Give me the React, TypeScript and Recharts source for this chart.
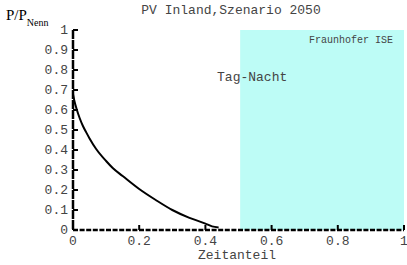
import React from 'react';
import { LineChart, Line, XAxis, YAxis, ReferenceArea, Label } from 'recharts';

const share = [0, 0.005, 0.01, 0.02, 0.03, 0.04, 0.05, 0.07, 0.1, 0.12, 0.15, 0.2, 0.25, 0.3, 0.35, 0.4, 0.42, 0.44];
const power = [0.68, 0.64, 0.61, 0.56, 0.52, 0.488, 0.458, 0.405, 0.345, 0.31, 0.27, 0.205, 0.15, 0.1, 0.062, 0.032, 0.018, 0.013];
const xTicks = [0, 0.2, 0.4, 0.6, 0.8, 1];
const yTicks = [0, 0.1, 0.2, 0.3, 0.4, 0.5, 0.6, 0.7, 0.8, 0.9, 1];
const nightStart = 0.505;

const title = 'PV Inland,Szenario 2050';
const xName = 'Zeitanteil';
const regionName = 'Tag-Nacht';
const credit = 'Fraunhofer ISE';

const mono = "'Courier New', 'Liberation Mono', monospace";
const textColor = '#444';

const data = share.map((x, i) => ({ x, p: power[i] }));

const LeftTick = (props: any) => {
  const { x, y, payload } = props;
  return (
    <g>
      <line x1={x + 5} x2={x + 10} y1={y} y2={y} stroke="#000" strokeWidth={2} />
      <text x={x} y={y + 4} textAnchor="end" fontFamily={mono} fontSize={13} fill={textColor}>
        {String(payload.value)}
      </text>
    </g>
  );
};

const BottomTick = (props: any) => {
  const { x, y, payload } = props;
  return (
    <g>
      <line x1={x} x2={x} y1={y - 3} y2={y - 8} stroke="#000" strokeWidth={2} />
      <text x={x} y={y + 12} textAnchor="middle" fontFamily={mono} fontSize={13} fill={textColor}>
        {String(payload.value)}
      </text>
    </g>
  );
};

const TopTick = (props: any) => {
  const { x, y } = props;
  return <line x1={x} x2={x} y1={y} y2={y + 5} stroke="#000" strokeWidth={2} />;
};

const RightTick = (props: any) => {
  const { x, y } = props;
  return <line x1={x} x2={x - 5} y1={y} y2={y} stroke="#000" strokeWidth={2} />;
};

export default function App() {
  return (
    <div style={{ position: 'absolute', left: 0, top: 0, width: 407, height: 265, background: '#fff' }}>
      <LineChart width={407} height={265} data={data} margin={{ top: 30, right: 3, bottom: 0, left: 0 }}>
        <XAxis
          dataKey="x"
          type="number"
          domain={[0, 1]}
          ticks={xTicks}
          interval={0}
          tickSize={0}
          tickMargin={3}
          tickLine={false}
          tick={<BottomTick />}
          height={35}
          axisLine={{ stroke: '#000', strokeWidth: 2.5, strokeDasharray: '5 1.6' }}
        />
        <XAxis
          xAxisId="top"
          orientation="top"
          dataKey="x"
          type="number"
          domain={[0, 1]}
          ticks={xTicks}
          interval={0}
          tickSize={0}
          tickLine={false}
          tick={<TopTick />}
          height={0}
          axisLine={{ stroke: '#000', strokeWidth: 2 }}
        />
        <YAxis
          type="number"
          domain={[0, 1]}
          ticks={yTicks}
          interval={0}
          width={73}
          tickSize={0}
          tickMargin={5}
          tickLine={false}
          tick={<LeftTick />}
          axisLine={{ stroke: '#000', strokeWidth: 2.5, strokeDasharray: '9 1' }}
        />
        <YAxis
          yAxisId="right"
          orientation="right"
          type="number"
          domain={[0, 1]}
          ticks={yTicks}
          interval={0}
          width={0}
          tickSize={0}
          tickLine={false}
          tick={<RightTick />}
          axisLine={{ stroke: '#000', strokeWidth: 2 }}
        />
        <ReferenceArea x1={nightStart} x2={1} y1={0} y2={1} fill="#bdfcf6" fillOpacity={1} stroke="none">
          <Label
            content={(p: any) => {
              const vb = p.viewBox;
              return (
                <g>
                  <text x={vb.x + 12} y={vb.y + 51} textAnchor="middle" fontFamily={mono} fontSize={13} fill={textColor}>
                    {regionName}
                  </text>
                  <text x={vb.x + vb.width - 11} y={vb.y + 13} textAnchor="end" fontFamily={mono} fontSize={10} fill={textColor}>
                    {credit}
                  </text>
                </g>
              );
            }}
          />
        </ReferenceArea>
        <Line type="monotone" dataKey="p" stroke="#000" strokeWidth={2} dot={false} isAnimationActive={false} />
      </LineChart>
      <svg width={407} height={265} style={{ position: 'absolute', left: 0, top: 0, pointerEvents: 'none' }}>
        <text x={231} y={14} textAnchor="middle" fontFamily={mono} fontSize={13} fill={textColor}>
          {title}
        </text>
        <text x={237} y={259} textAnchor="middle" fontFamily={mono} fontSize={13} fill={textColor}>
          {xName}
        </text>
        <text x={6} y={20} fontFamily="'Liberation Serif', 'Times New Roman', serif" fontSize={15} fill="#000">
          P/P
          <tspan fontSize={10} dy={6}>Nenn</tspan>
        </text>
      </svg>
    </div>
  );
}
